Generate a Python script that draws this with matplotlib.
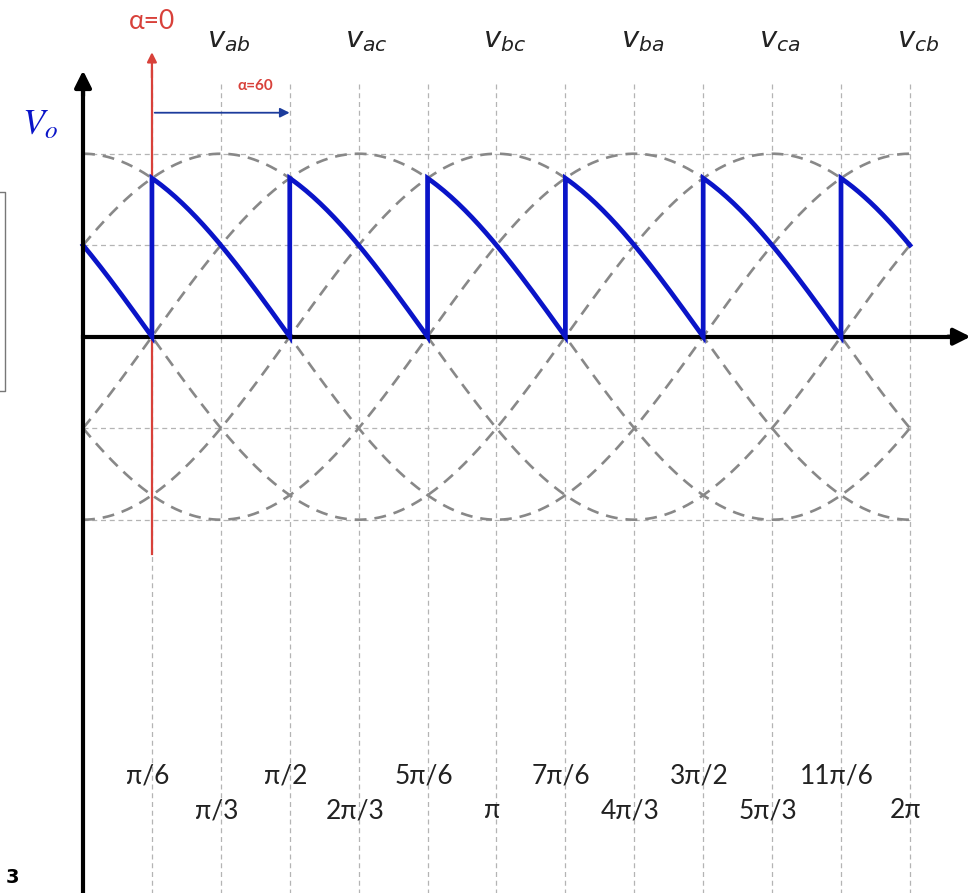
import numpy as np
import matplotlib
matplotlib.use("Agg")
import matplotlib.pyplot as plt

# line voltages: label -> angle of positive peak (rad), unit amplitude
line_labels = ["v_{ab}", "v_{ac}", "v_{bc}", "v_{ba}", "v_{ca}", "v_{cb}"]
peak_angles = [np.pi / 3, 2 * np.pi / 3, np.pi, 4 * np.pi / 3, 5 * np.pi / 3, 2 * np.pi]

# output voltage: switching instants and the line voltage conducting after each
switch_angles = [np.pi / 6, np.pi / 2, 5 * np.pi / 6, 7 * np.pi / 6, 3 * np.pi / 2, 11 * np.pi / 6]
conducting = ["v_{ca}", "v_{cb}", "v_{ab}", "v_{ac}", "v_{bc}", "v_{ba}", "v_{ca}"]

alpha_ref = np.pi / 6          # alpha = 0 reference
alpha_delay = np.pi / 3        # alpha = 60 deg

tick_pos = [k * np.pi / 6 for k in range(1, 13)]
tick_labels = ["π/6", "π/3", "π/2", "2π/3", "5π/6", "π",
               "7π/6", "4π/3", "3π/2", "5π/3", "11π/6", "2π"]
tick_row = [0, 1, 0, 1, 0, 1, 0, 1, 0, 1, 0, 1]
grid_levels = [1.0, 0.5, -0.5, -1.0]

BLUE = "#0a14c8"
RED = "#d8413a"
GRAY = "#888888"
GRID = "#b4b4b4"

fig = plt.figure(figsize=(9.77, 8.93), dpi=100)
ax = fig.add_axes([0, 0, 1, 1])
ax.set_xlim(-0.631, 6.793)
ax.set_ylim(-3.04, 1.84)
ax.axis("off")

# grid
for t in tick_pos:
    ax.plot([t, t], [-3.1, 1.40], color=GRID, lw=0.9, dashes=(4, 3), zorder=1)
for g in grid_levels:
    ax.plot([0, 2 * np.pi], [g, g], color=GRID, lw=0.9, dashes=(4, 3), zorder=1)

# line voltages (dashed)
theta = np.linspace(0, 2 * np.pi, 600)
peaks = dict(zip(line_labels, peak_angles))
for lab, pk in zip(line_labels, peak_angles):
    ax.plot(theta, np.cos(theta - pk), color=GRAY, lw=1.9, dashes=(4.5, 3), zorder=2)
    ax.text(pk + 0.06, 1.62, rf"$v_{{{lab[3:-1]}}}$", fontsize=21, ha="center", va="center",
            math_fontfamily="dejavusans", color="#222222")

# output voltage
bounds = [0.0] + switch_angles + [2 * np.pi]
xs, ys = [], []
for a, b, lab in zip(bounds[:-1], bounds[1:], conducting):
    seg = np.linspace(a, b, 60)
    xs.append(seg)
    ys.append(np.cos(seg - peaks[lab]))
ax.plot(np.concatenate(xs), np.concatenate(ys), color=BLUE, lw=3.4, zorder=5,
        solid_joinstyle="miter")

# axes with arrows
ax.plot([0, 0], [-3.1, 1.40], color="black", lw=3, zorder=6)
ax.annotate("", xy=(0, 1.47), xytext=(0, 1.3),
            arrowprops=dict(arrowstyle="-|>", color="black", lw=3, mutation_scale=25))
ax.plot([0, 6.65], [0, 0], color="black", lw=3, zorder=4)
ax.annotate("", xy=(6.765, 0), xytext=(6.55, 0),
            arrowprops=dict(arrowstyle="-|>", color="black", lw=3, mutation_scale=25))

# alpha reference line and delay arrow
ax.plot([alpha_ref, alpha_ref], [-1.19, 1.45], color=RED, lw=1.6, zorder=3)
ax.annotate("", xy=(alpha_ref, 1.57), xytext=(alpha_ref, 1.40),
            arrowprops=dict(arrowstyle="-|>", color=RED, lw=1.6, mutation_scale=14))
ax.text(alpha_ref, 1.72, "α=0", color=RED, fontsize=19, ha="center", va="center",
        family=["Lato", "DejaVu Sans"])
ax.annotate("", xy=(alpha_ref + alpha_delay + 0.02, 1.224), xytext=(alpha_ref, 1.224),
            arrowprops=dict(arrowstyle="-|>", color="#1c3c9c", lw=1.3, mutation_scale=14))
ax.text(1.31, 1.37, "α=60", color=RED, fontsize=11, fontweight="bold",
        ha="center", va="center", family=["Lato", "DejaVu Sans"])

ax.text(-0.33, 1.16, r"$V_o$", color=BLUE, fontsize=26, ha="center", va="center",
        math_fontfamily="stix")

# staggered tick labels
row_y = [-2.40, -2.59]
for t, lab, r in zip(tick_pos, tick_labels, tick_row):
    ax.text(t - 0.03, row_y[r], lab, fontsize=19, ha="center", va="center",
            family=["Lato", "DejaVu Sans"], color="#222222")

# cropped leftovers at left edge
ax.plot([-0.7, -0.593, -0.593, -0.7], [0.79, 0.79, -0.295, -0.295], color="#777777", lw=1)
ax.text(-0.54, -2.955, "3", fontsize=14, fontweight="bold", ha="center", va="center")

fig.savefig("out.png", dpi=100)
